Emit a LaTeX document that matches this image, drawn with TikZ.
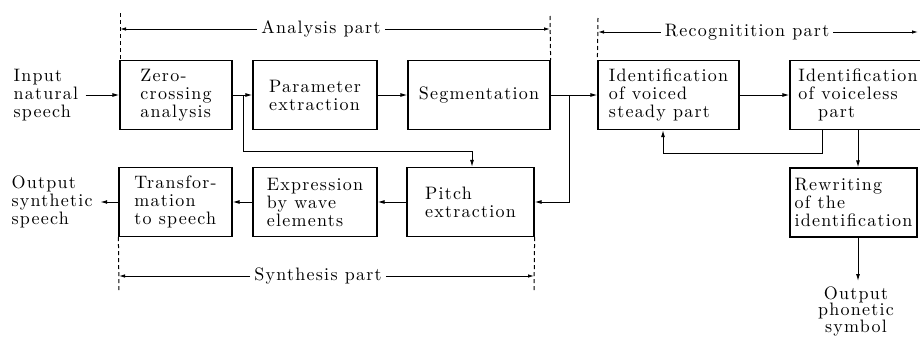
\documentclass[tikz,border=0pt]{standalone}
\usepackage{fontspec}
\setmainfont{lmroman10-regular.otf}[LetterSpace=7]
\usetikzlibrary{arrows.meta}
\tikzset{
  every node/.style={font=\fontsize{18}{18}\selectfont},
  block/.style={draw, line width=1.2pt, align=left, inner sep=0pt, minimum height=69pt},
  link/.style={line width=1pt, -{Latex[length=7pt,width=4pt]}},
  dimline/.style={line width=0.9pt, -{Latex[length=6pt,width=3.5pt]}},
  guide/.style={line width=1pt, dash pattern=on 4pt off 3pt}
}
\begin{document}
\begin{tikzpicture}[x=1pt,y=-1pt]
\useasboundingbox (0,0) rectangle (920,338);
% upper row
\node[block, minimum width=112pt] (zc) at (176,95) {Zero-\\crossing\\analysis};
\node[block, minimum width=124pt] (param) at (315,95) {Parameter\\extraction};
\node[block, minimum width=142pt] (seg) at (479,95) {Segmentation};
\node[block, minimum width=141pt] (voiced) at (668.5,95) {Identification\\of voiced\\steady part};
\node[block, minimum width=136pt] (voiceless) at (858,95) {Identification\\of voiceless\\\hspace*{1.1em}part};
% lower row
\node[block, minimum width=127pt] (pitch) at (470.5,202) {Pitch\\extraction};
\node[block, minimum width=124pt] (expr) at (315,202) {Expression\\by wave\\elements};
\node[block, minimum width=113pt] (trans) at (175.5,202) {Transfor-\\mation\\to speech};
\node[block, minimum width=127pt] (rewrite) at (853.5,202.5) {Rewriting\\of the\\identification};
% in and out
\node[anchor=west, align=left] (insp) at (10,95) {Input\\natural\\speech};
\node[anchor=west, align=left] (outsp) at (8,202) {Output\\synthetic\\speech};
\node[anchor=north, align=center, font=\fontsize{18}{16.5}\selectfont] (phon) at (856,283) {Output\\phonetic\\symbol};

\draw[link, shorten <=4pt] (insp.east) -- (zc.west);
\draw[link] (zc) -- (param);
\draw[link] (param) -- (seg);
\draw[link] (seg) -- (voiced);
\draw[link] (voiced) -- (voiceless);
\draw[link] (pitch) -- (expr);
\draw[link] (expr) -- (trans);
\draw[link, shorten >=4pt] (trans.west) -- (outsp.east);

\coordinate (b1) at (243,95);
\coordinate (t1) at (472,151);
\draw[link] (b1) |- (t1) -- (t1 |- pitch.north);
\coordinate (b2) at (569,95);
\draw[link] (b2) |- (pitch.east);
\coordinate (f1) at (822,153);
\coordinate (f2) at (663,153);
\draw[link] (voiceless.south -| f1) -- (f1) -- (f2) -- (voiced.south -| f2);
\coordinate (d1) at (858,0);
\draw[link] (voiceless.south -| d1) -- (rewrite.north -| d1);
\draw[link, shorten >=2pt] (rewrite.south -| d1) -- (phon.north -| d1);

% part brackets
\coordinate (a1) at (120,13);
\coordinate (a2) at (550,16);
\coordinate (r1) at (598,18);
\coordinate (r2) at (918,32);
\coordinate (s1) at (119,292);
\coordinate (s2) at (534,292);
\draw[guide] (a1) -- (a1 |- zc.north);
\draw[guide] (a2) -- (seg.north east);
\draw[guide] (r1) -- (voiced.north west);
\draw[guide] (trans.south west) -- (s1);
\draw[guide] (pitch.south east) -- (s2);
\node[inner xsep=4pt] (ana) at (321,29) {Analysis part};
\node[inner xsep=4pt] (reco) at (747,32) {Recognitition part};
\node[inner xsep=4pt] (syn) at (318,276) {Synthesis part};
\draw[dimline] (ana.west) -- (ana.west -| a1);
\draw[dimline] (ana.east) -- (ana.east -| a2);
\draw[dimline] (reco.west) -- (reco.west -| r1);
\draw[dimline] (reco.east) -- (r2);
\draw[dimline] (syn.west) -- (syn.west -| s1);
\draw[dimline] (syn.east) -- (syn.east -| s2);
\end{tikzpicture}
\end{document}
